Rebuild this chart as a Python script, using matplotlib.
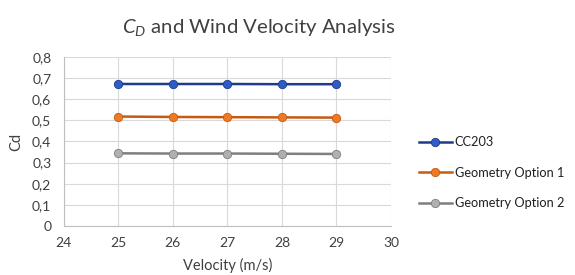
import matplotlib

matplotlib.use("Agg")
import matplotlib.pyplot as plt
from matplotlib.ticker import FuncFormatter

velocity = [25, 26, 27, 28, 29]
cd_cc203 = [0.672, 0.672, 0.672, 0.671, 0.671]
cd_geom1 = [0.518, 0.516, 0.515, 0.514, 0.513]
cd_geom2 = [0.344, 0.343, 0.343, 0.342, 0.341]

series = [
    ("CC203", cd_cc203, "#1F3C88", "#2E5CC8"),
    ("Geometry Option 1", cd_geom1, "#C55A11", "#F07A22"),
    ("Geometry Option 2", cd_geom2, "#7F7F7F", "#B0B0B0"),
]

plt.rcParams["font.family"] = ["Lato", "DejaVu Sans"]
plt.rcParams["mathtext.fontset"] = "custom"
plt.rcParams["mathtext.rm"] = "Lato"
plt.rcParams["mathtext.it"] = "Lato:italic"

fig = plt.figure(figsize=(5.75, 2.75), dpi=100)
ax = fig.add_axes([0.111, 0.178, 0.569, 0.615])

for label, values, line_color, marker_color in series:
    ax.plot(
        velocity,
        values,
        color=line_color,
        linewidth=1.8,
        marker="o",
        markersize=6,
        markerfacecolor=marker_color,
        markeredgecolor=line_color,
        markeredgewidth=0.6,
        label=label,
    )

ax.set_xlim(24, 30)
ax.set_ylim(0, 0.8)
ax.set_xticks(range(24, 31))
ax.set_yticks([i / 10 for i in range(9)])
ax.yaxis.set_major_formatter(
    FuncFormatter(lambda v, _: "0" if v == 0 else f"{v:.1f}".replace(".", ","))
)
ax.tick_params(length=0, labelsize=10, colors="#404040")
ax.tick_params(axis="x", pad=8)
ax.tick_params(axis="y", pad=9)
ax.grid(color="#D9D9D9", linewidth=0.8)
ax.set_axisbelow(True)
for side in ("top", "right"):
    ax.spines[side].set_visible(False)
for side in ("left", "bottom"):
    ax.spines[side].set_color("#BFBFBF")

ax.set_xlabel("Velocity (m/s)", fontsize=10.5, color="#404040", labelpad=6)
ax.set_ylabel("Cd", fontsize=10.5, color="#404040", labelpad=6)

fig.suptitle("$C_D$ and Wind Velocity Analysis", fontsize=14.7, color="#404040",
             x=0.45, y=0.94)

ax.legend(
    loc="center left",
    bbox_to_anchor=(1.05, 0.315),
    frameon=False,
    fontsize=9.2,
    handlelength=2.6,
    handletextpad=0.2,
    labelspacing=1.45,
    labelcolor="#202020",
)

fig.savefig("out.png", dpi=100)
plt.close(fig)
